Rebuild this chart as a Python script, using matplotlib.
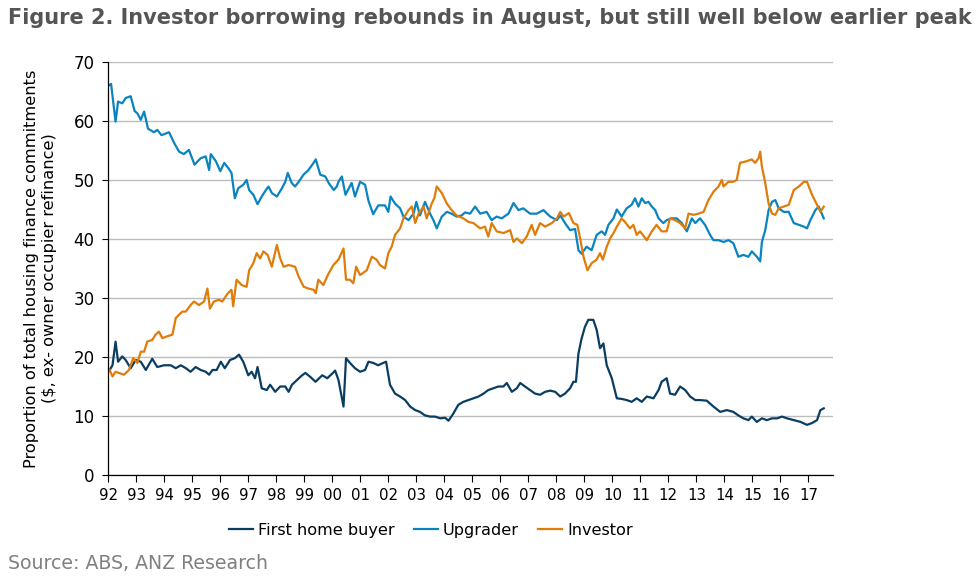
import matplotlib
matplotlib.use("Agg")
import matplotlib.pyplot as plt

# values (decimal year, % share)
fhb_t = [1992.05, 1992.15, 1992.26, 1992.35, 1992.5, 1992.62, 1992.8, 1992.98, 1993.16, 1993.34,
         1993.57, 1993.75, 1993.99, 1994.23, 1994.41, 1994.59, 1994.77, 1994.94, 1995.12, 1995.3,
         1995.48, 1995.6, 1995.72, 1995.87, 1996.02, 1996.16, 1996.35, 1996.52, 1996.67, 1996.82,
         1997.0, 1997.12, 1997.24, 1997.33, 1997.48, 1997.66, 1997.78, 1997.96, 1998.14, 1998.32,
         1998.44, 1998.56, 1998.74, 1998.92, 1999.04, 1999.22, 1999.4, 1999.64, 1999.82, 2000.0,
         2000.1, 2000.22, 2000.4, 2000.49, 2000.63, 2000.81, 2000.99, 2001.17, 2001.29, 2001.46,
         2001.64, 2001.82, 2001.92, 2002.06, 2002.24, 2002.42, 2002.6, 2002.78, 2002.96, 2003.13,
         2003.31, 2003.49, 2003.67, 2003.85, 2004.03, 2004.15, 2004.32, 2004.5, 2004.68, 2004.86,
         2005.04, 2005.22, 2005.4, 2005.57, 2005.75, 2005.93, 2006.11, 2006.23, 2006.41, 2006.59,
         2006.71, 2006.88, 2007.06, 2007.24, 2007.42, 2007.6, 2007.78, 2007.96, 2008.14, 2008.31,
         2008.49, 2008.61, 2008.7, 2008.79, 2008.9, 2009.02, 2009.14, 2009.32, 2009.44, 2009.56,
         2009.68, 2009.8, 2009.98, 2010.16, 2010.33, 2010.51, 2010.69, 2010.87, 2011.05, 2011.23,
         2011.47, 2011.65, 2011.76, 2011.94, 2012.06, 2012.24, 2012.42, 2012.6, 2012.78, 2012.96,
         2013.13, 2013.37, 2013.61, 2013.85, 2014.09, 2014.32, 2014.5, 2014.68, 2014.86, 2014.98,
         2015.16, 2015.34, 2015.52, 2015.7, 2015.88, 2016.06, 2016.24, 2016.48, 2016.72, 2016.95,
         2017.13, 2017.31, 2017.43, 2017.55]
fhb_v = [17.8, 18.6, 22.6, 19.2, 20.1, 19.5, 18.1, 19.5, 19.2, 17.8,
         19.7, 18.3, 18.6, 18.6, 18.1, 18.6, 18.1, 17.5, 18.3, 17.8,
         17.5, 17.0, 17.8, 17.8, 19.2, 18.1, 19.5, 19.8, 20.4, 19.2,
         16.9, 17.5, 16.4, 18.3, 14.7, 14.4, 15.3, 14.1, 15.0, 15.0,
         14.1, 15.3, 16.1, 16.9, 17.3, 16.6, 15.8, 16.9, 16.4, 17.2,
         17.7, 16.1, 11.6, 19.8, 19.0, 18.1, 17.5, 17.8, 19.2, 19.0,
         18.6, 19.0, 19.2, 15.3, 13.8, 13.3, 12.7, 11.6, 11.0, 10.7,
         10.1, 9.9, 9.9, 9.6, 9.7, 9.2, 10.4, 11.9, 12.4, 12.7,
         13.0, 13.3, 13.8, 14.4, 14.7, 15.0, 15.0, 15.6, 14.1, 14.7,
         15.6, 15.0, 14.4, 13.8, 13.6, 14.1, 14.3, 14.1, 13.3, 13.8,
         14.7, 15.8, 15.8, 20.6, 23.1, 25.1, 26.3, 26.3, 24.6, 21.5,
         22.3, 18.6, 16.4, 13.0, 12.9, 12.7, 12.4, 13.0, 12.4, 13.3,
         13.0, 14.4, 15.8, 16.4, 13.8, 13.6, 15.0, 14.4, 13.3, 12.7,
         12.7, 12.6, 11.6, 10.7, 11.0, 10.7, 10.1, 9.6, 9.3, 9.9,
         9.0, 9.6, 9.3, 9.6, 9.6, 9.9, 9.6, 9.3, 9.0, 8.5,
         8.8, 9.3, 11.0, 11.3]

upg_t = [1992.05, 1992.1, 1992.26, 1992.35, 1992.5, 1992.62, 1992.8, 1992.94, 1993.04, 1993.16,
         1993.28, 1993.42, 1993.63, 1993.75, 1993.9, 1994.17, 1994.35, 1994.53, 1994.7, 1994.88,
         1995.08, 1995.3, 1995.48, 1995.6, 1995.66, 1995.84, 1996.0, 1996.14, 1996.29, 1996.4,
         1996.52, 1996.64, 1996.82, 1996.94, 1997.03, 1997.18, 1997.33, 1997.48, 1997.6, 1997.72,
         1997.84, 1998.02, 1998.2, 1998.32, 1998.41, 1998.55, 1998.67, 1998.8, 1998.97, 1999.15,
         1999.33, 1999.41, 1999.57, 1999.75, 1999.87, 2000.05, 2000.16, 2000.22, 2000.34, 2000.47,
         2000.69, 2000.81, 2000.99, 2001.17, 2001.29, 2001.46, 2001.64, 2001.88, 2002.0, 2002.08,
         2002.24, 2002.42, 2002.54, 2002.72, 2002.9, 2003.0, 2003.13, 2003.31, 2003.49, 2003.61,
         2003.73, 2003.91, 2004.09, 2004.26, 2004.44, 2004.62, 2004.74, 2004.92, 2005.1, 2005.28,
         2005.51, 2005.69, 2005.87, 2006.05, 2006.29, 2006.47, 2006.65, 2006.82, 2007.06, 2007.3,
         2007.54, 2007.78, 2008.02, 2008.14, 2008.31, 2008.49, 2008.67, 2008.79, 2008.9, 2009.08,
         2009.26, 2009.44, 2009.62, 2009.74, 2009.86, 2010.04, 2010.16, 2010.33, 2010.51, 2010.69,
         2010.81, 2010.93, 2011.05, 2011.17, 2011.29, 2011.41, 2011.53, 2011.65, 2011.82, 2011.94,
         2012.12, 2012.3, 2012.48, 2012.66, 2012.84, 2012.96, 2013.13, 2013.31, 2013.49, 2013.61,
         2013.79, 2013.97, 2014.15, 2014.32, 2014.5, 2014.68, 2014.86, 2014.98, 2015.16, 2015.28,
         2015.34, 2015.46, 2015.58, 2015.7, 2015.82, 2015.94, 2016.12, 2016.3, 2016.48, 2016.66,
         2016.84, 2016.95, 2017.07, 2017.25, 2017.37, 2017.55]
upg_v = [66.1, 66.3, 59.9, 63.3, 63.0, 63.9, 64.2, 61.7, 61.3, 60.2,
         61.6, 58.7, 58.1, 58.5, 57.6, 58.1, 56.3, 54.8, 54.4, 55.1,
         52.6, 53.7, 54.0, 51.7, 54.4, 53.2, 51.5, 52.9, 52.0, 51.2,
         46.9, 48.6, 49.2, 50.0, 48.3, 47.5, 45.9, 47.2, 48.1, 48.9,
         47.8, 47.2, 48.6, 49.7, 51.2, 49.5, 48.9, 49.7, 50.9, 51.7,
         52.9, 53.5, 50.9, 50.6, 49.5, 48.3, 48.9, 49.7, 50.6, 47.5,
         49.5, 47.2, 49.7, 49.2, 46.5, 44.2, 45.7, 45.7, 44.6, 47.2,
         46.0, 45.2, 43.8, 43.2, 44.3, 46.3, 44.0, 46.3, 44.3, 43.2,
         41.8, 43.8, 44.6, 44.3, 43.8, 44.0, 44.5, 44.3, 45.5, 44.3,
         44.6, 43.2, 43.8, 43.5, 44.3, 46.1, 44.9, 45.2, 44.3, 44.3,
         44.9, 43.8, 43.2, 44.0, 42.7, 41.5, 41.7, 38.1, 37.5, 38.7,
         38.1, 40.7, 41.3, 40.7, 42.4, 43.5, 45.0, 43.8, 45.2, 45.8,
         46.9, 45.5, 46.9, 46.1, 46.3, 45.5, 44.9, 43.5, 42.7, 43.2,
         43.5, 43.5, 42.7, 41.3, 43.5, 42.7, 43.5, 42.4, 40.7, 39.8,
         39.8, 39.5, 39.8, 39.3, 37.0, 37.3, 37.0, 37.9, 37.0, 36.2,
         39.5, 41.5, 44.9, 46.3, 46.6, 45.2, 44.6, 44.6, 42.7, 42.4,
         42.1, 41.8, 43.2, 44.9, 45.5, 43.5]

inv_t = [1992.05, 1992.15, 1992.26, 1992.56, 1992.74, 1992.89, 1993.04, 1993.16, 1993.28, 1993.39,
         1993.57, 1993.69, 1993.81, 1993.93, 1994.1, 1994.29, 1994.41, 1994.53, 1994.65, 1994.77,
         1994.94, 1995.06, 1995.24, 1995.42, 1995.54, 1995.63, 1995.77, 1995.95, 1996.07, 1996.27,
         1996.4, 1996.46, 1996.58, 1996.76, 1996.94, 1997.03, 1997.18, 1997.3, 1997.42, 1997.54,
         1997.69, 1997.84, 1998.02, 1998.14, 1998.26, 1998.44, 1998.67, 1998.8, 1998.98, 1999.15,
         1999.33, 1999.41, 1999.5, 1999.68, 1999.86, 2000.04, 2000.22, 2000.4, 2000.49, 2000.63,
         2000.75, 2000.85, 2000.99, 2001.23, 2001.41, 2001.58, 2001.7, 2001.88, 2002.0, 2002.12,
         2002.24, 2002.42, 2002.54, 2002.72, 2002.84, 2002.96, 2003.08, 2003.26, 2003.37, 2003.55,
         2003.64, 2003.73, 2003.91, 2004.09, 2004.26, 2004.44, 2004.68, 2004.86, 2005.04, 2005.28,
         2005.45, 2005.57, 2005.69, 2005.87, 2006.11, 2006.35, 2006.47, 2006.59, 2006.77, 2006.94,
         2007.12, 2007.24, 2007.42, 2007.6, 2007.84, 2008.02, 2008.14, 2008.26, 2008.45, 2008.61,
         2008.75, 2008.85, 2008.97, 2009.11, 2009.26, 2009.44, 2009.56, 2009.66, 2009.8, 2009.92,
         2010.04, 2010.16, 2010.33, 2010.45, 2010.63, 2010.75, 2010.87, 2010.99, 2011.23, 2011.41,
         2011.58, 2011.76, 2011.94, 2012.06, 2012.24, 2012.42, 2012.6, 2012.72, 2012.9, 2013.08,
         2013.26, 2013.43, 2013.61, 2013.79, 2013.91, 2013.97, 2014.15, 2014.32, 2014.44, 2014.56,
         2014.8, 2014.98, 2015.1, 2015.22, 2015.28, 2015.34, 2015.46, 2015.58, 2015.7, 2015.82,
         2015.94, 2016.12, 2016.3, 2016.48, 2016.66, 2016.84, 2016.95, 2017.13, 2017.31, 2017.43,
         2017.55]
inv_v = [17.8, 16.7, 17.5, 17.0, 17.8, 19.8, 19.0, 20.9, 20.9, 22.6,
         22.9, 23.8, 24.3, 23.2, 23.5, 23.8, 26.6, 27.2, 27.7, 27.7,
         28.8, 29.4, 28.8, 29.4, 31.6, 28.2, 29.4, 29.7, 29.4, 30.8,
         31.4, 28.6, 33.1, 32.2, 31.9, 34.7, 35.9, 37.6, 36.7, 37.9,
         37.3, 35.3, 39.0, 36.7, 35.3, 35.6, 35.3, 33.6, 31.9, 31.6,
         31.4, 30.8, 33.1, 32.2, 34.1, 35.6, 36.5, 38.4, 33.1, 33.1,
         32.5, 35.3, 33.9, 34.7, 37.0, 36.5, 35.6, 35.0, 37.6, 38.7,
         40.7, 41.8, 43.5, 44.9, 45.5, 42.7, 44.3, 45.5, 43.5, 46.0,
         46.9, 48.9, 47.8, 46.0, 44.9, 44.0, 43.5, 42.9, 42.7, 41.8,
         42.1, 40.4, 42.7, 41.3, 41.0, 41.5, 39.5, 40.1, 39.3, 40.4,
         42.4, 40.7, 42.7, 42.1, 42.7, 43.5, 44.6, 43.8, 44.4, 42.7,
         42.4, 40.1, 37.0, 34.7, 35.9, 36.5, 37.6, 36.5, 38.7, 40.1,
         41.0, 42.1, 43.5, 42.9, 41.8, 42.4, 40.7, 41.3, 39.8, 41.3,
         42.4, 41.3, 41.3, 43.5, 43.2, 42.7, 41.8, 44.3, 44.1, 44.3,
         44.6, 46.6, 48.0, 48.9, 50.0, 48.9, 49.7, 49.7, 50.0, 52.9,
         53.2, 53.5, 52.9, 53.7, 54.8, 52.3, 49.5, 46.0, 44.3, 44.1,
         45.2, 45.5, 45.8, 48.3, 48.9, 49.7, 49.7, 47.5, 45.8, 44.6,
         45.5]

years = list(range(1992, 2018))
year_labels = [str(y)[2:] for y in years]
y_ticks = list(range(0, 71, 10))

fig = plt.figure(figsize=(9.79, 5.78), dpi=100)
ax = fig.add_axes([0.1106, 0.1782, 0.74, 0.7145])

ax.plot(fhb_t, fhb_v, color="#0a3d62", lw=1.6, label="First home buyer")
ax.plot(upg_t, upg_v, color="#0a84c1", lw=1.6, label="Upgrader")
ax.plot(inv_t, inv_v, color="#e07c0a", lw=1.6, label="Investor")

ax.set_xlim(1992, 2017.87)
ax.set_ylim(0, 70)
ax.set_xticks(years)
ax.set_xticklabels(year_labels)
ax.set_yticks(y_ticks)
ax.tick_params(axis="x", direction="out", length=5, width=0.8, labelsize=10.8, pad=4, colors="black")
ax.tick_params(axis="y", direction="out", length=4, width=0.8, labelsize=12, pad=6)
ax.yaxis.grid(True, color="#bdbdbd", lw=1)
ax.set_axisbelow(True)
for s in ["top", "right"]:
    ax.spines[s].set_visible(False)
for s in ["left", "bottom"]:
    ax.spines[s].set_color("black")
    ax.spines[s].set_linewidth(0.9)

ax.set_ylabel("Proportion of total housing finance commitments\n($, ex- owner occupier refinance)",
              fontsize=11.7, linespacing=1.2, labelpad=12)

fig.text(0.008, 0.968, "Figure 2. Investor borrowing rebounds in August, but still well below earlier peak",
         fontsize=15, fontweight="bold", color="#555555", ha="left", va="center")
fig.text(0.008, 0.025, "Source: ABS, ANZ Research", fontsize=13.6, color="#808080",
         ha="left", va="center")

fig.legend(loc="center", bbox_to_anchor=(0.44, 0.083), ncol=3, frameon=False,
           fontsize=11.6, handlelength=1.5, handletextpad=0.3, columnspacing=1.2)

fig.savefig("out.png", dpi=100)
